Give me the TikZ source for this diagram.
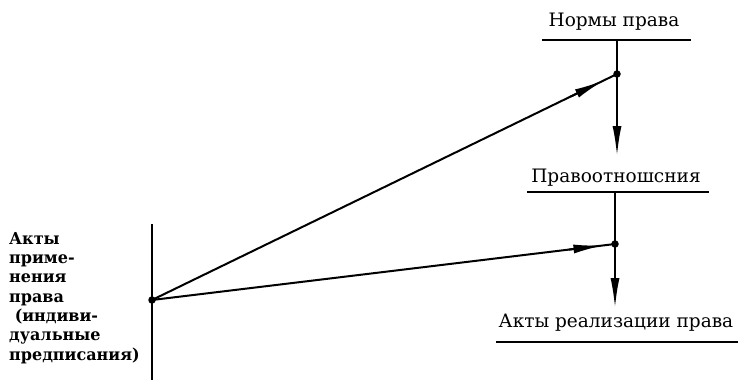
\documentclass[tikz,border=0pt]{standalone}
\usepackage{fontspec}
\setmainfont{DejaVu Serif}
\newfontfamily\labserif[FakeStretch=1.0]{DejaVu Serif}
\newfontfamily\boldserif[FakeStretch=0.97]{DejaVu Serif}
\usetikzlibrary{arrows.meta,calc}
\tikzset{
  lbl/.style={inner sep=0pt, anchor=base, font=\labserif\fontsize{18.5}{18.5}\selectfont},
  bar/.style={line width=2pt},
  conn/.style={line width=2pt},
  head/.style={line width=2pt,-{Latex[length=30pt,width=9pt]}},
  dotn/.style={circle, fill=black, inner sep=0pt, minimum size=7.5pt}
}
\begin{document}
\begin{tikzpicture}[x=1pt,y=1pt]
\useasboundingbox (0,0) rectangle (738,-380);
% labels
\node[lbl] (norm) at (614,-27) {Нормы права};
\node[lbl] (prav) at (616,-182) {Правоотношсния};
\node[lbl] (real) at (616,-327) {Акты реализации права};
\node[inner sep=0pt, anchor=base west, align=left,
      font=\boldserif\bfseries\fontsize{16.5}{19.3}\selectfont] (akty) at (9,-360)
  {Акты\\приме-\\нения\\права\\\ (индиви-\\дуальные\\предписания)};
% bars
\coordinate (n1l) at (542,-40); \coordinate (n1r) at (691,-40);
\coordinate (n2l) at (527,-192); \coordinate (n2r) at (709,-192);
\coordinate (n3l) at (496,-342); \coordinate (n3r) at (738,-342);
\draw[bar] (n1l) -- (n1r);
\draw[bar] (n2l) -- (n2r);
\draw[bar] (n3l) -- (n3r);
% left vertical
\coordinate (vt) at (152,-224); \coordinate (vb) at (152,-380);
\draw[bar] (vt) -- (vb);
% dots
\node[dotn] (L) at (152,-300) {};
\node[dotn] (D1) at (617,-74) {};
\node[dotn] (D2) at (615,-244) {};
% vertical arrows
\coordinate (n1m) at (617,-40); \coordinate (t1) at (617,-156);
\coordinate (n2m) at (615,-192); \coordinate (t2) at (615,-308);
\draw[head] (n1m) -- (t1);
\draw[head] (n2m) -- (t2);
% slanted connectors
\draw[conn] (L.center) -- (D1.center);
\draw[conn] (L.center) -- (D2.center);
\draw[head] ($(L.center)!0.90!(D1.center)$) -- ($(L.center)!0.972!(D1.center)$);
\draw[head] ($(L.center)!0.90!(D2.center)$) -- ($(L.center)!0.975!(D2.center)$);
\end{tikzpicture}
\end{document}
